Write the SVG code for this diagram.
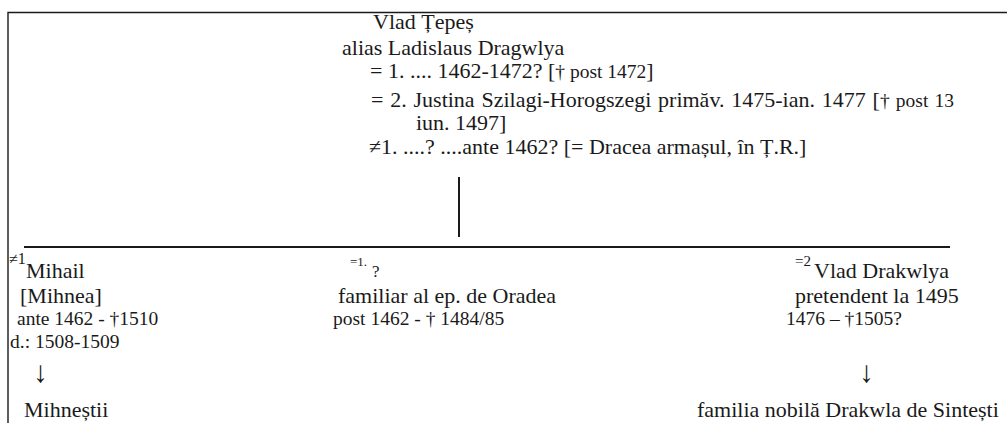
<svg xmlns="http://www.w3.org/2000/svg" width="1007" height="423" viewBox="0 0 1007 423">
<style>
text{font-family:"Liberation Serif","Times New Roman",serif;fill:#1a1a1a;font-size:22px}
.d{font-size:19.5px}
.s{font-size:19.5px}
.sup{font-size:15px}
.ar{font-size:30px}
.ln{stroke:#1a1a1a;fill:none}
</style>
<rect width="1007" height="423" fill="#fff"/>
<g id="connectors">
<polyline class="ln" stroke-width="1.4" points="8,423 8,12.5 1007,12.5"/>
<line class="ln" stroke-width="2" x1="459" y1="177" x2="459" y2="237"/>
<line class="ln" stroke-width="2" x1="24" y1="247" x2="950" y2="247"/>
</g>
<g id="vlad-tepes">
<text x="373" y="29">Vlad Țepeș</text>
<text x="342" y="55">alias Ladislaus Dragwlya</text>
<text x="370" y="78">= 1. .... 1462-1472? [<tspan class="s">† post 1472</tspan>]</text>
<text x="371" y="107" style="word-spacing:1.3px">= 2. Justina Szilagi-Horogszegi primăv. 1475-ian. 1477 [<tspan class="s">† post 13</tspan></text>
<text x="416" y="130">iun. 1497]</text>
<text x="369" y="154">≠1. ....? ....ante 1462? [= Dracea armașul, în Ț.R.]</text>
</g>
<g id="mihail">
<text class="sup" x="9" y="264" style="font-size:16px">≠1</text>
<text x="26" y="278">Mihail</text>
<text x="20" y="303">[Mihnea]</text>
<text class="d" x="17" y="325">ante 1462 - †1510</text>
<text class="d" x="10" y="348">d.: 1508-1509</text>
<text class="ar" x="33" y="382">↓</text>
<text x="24" y="417">Mihneștii</text>
</g>
<g id="fiu-necunoscut">
<text class="sup" x="350" y="266" style="font-size:13px">=1.</text>
<text x="372" y="277" style="font-size:17px">?</text>
<text x="338" y="303">familiar al ep. de Oradea</text>
<text class="d" x="333" y="325">post 1462 - † 1484/85</text>
</g>
<g id="vlad-drakwlya">
<text class="sup" x="795" y="266">=2</text>
<text x="814" y="278">Vlad Drakwlya</text>
<text x="795" y="303">pretendent la 1495</text>
<text class="d" x="786" y="325">1476 – †1505?</text>
<text class="ar" x="859" y="382">↓</text>
<text x="697" y="417">familia nobilă Drakwla de Sintești</text>
</g>
</svg>
